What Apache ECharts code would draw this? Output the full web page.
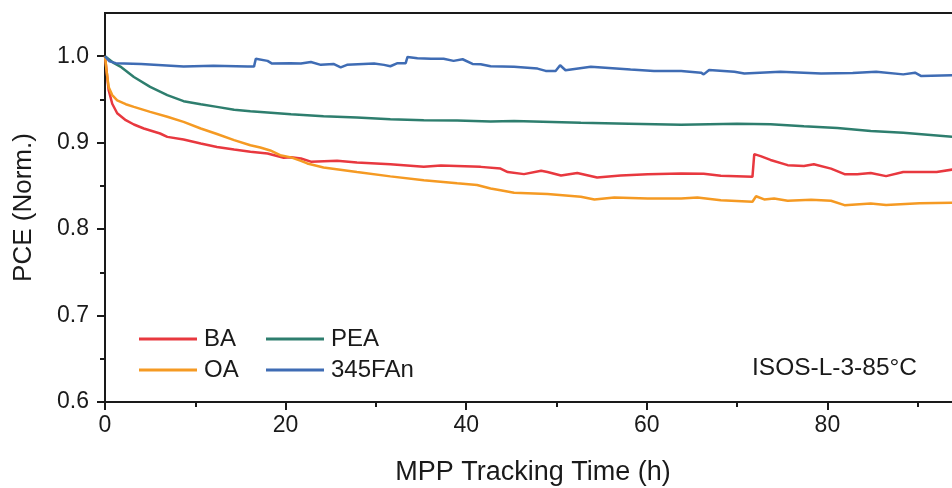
<!DOCTYPE html>
<html>
<head>
<meta charset="utf-8">
<script src="https://cdn.jsdelivr.net/npm/echarts@6/dist/echarts.min.js"></script>
<style>html,body{margin:0;padding:0;background:#fff;overflow:hidden}#c{width:952px;height:488px}</style>
</head>
<body>
<div id="c"></div>
<script>
// ---- data ----
var seriesNames = ['BA', 'OA', 'PEA', '345FAn'];
var xTicks = [0, 20, 40, 60, 80, 100];
var yTicks = [0.6, 0.7, 0.8, 0.9, 1.0];
var xTitle = 'MPP Tracking Time (h)';
var yTitle = 'PCE (Norm.)';
var note = 'ISOS-L-3-85°C';

var baTime = [0, 0.17, 0.4, 0.8, 1.35, 2.3, 3.2, 4.3, 6.1, 6.9, 8.7, 10.6, 12.4, 14.3, 16.1, 18.0, 19.8, 20.6, 21.7, 22.8, 25.7, 27.9, 31.6, 35.3, 37.2, 41.6, 43.8, 44.6, 46.4, 48.3, 49.0, 50.5, 52.3, 54.5, 57.1, 60.1, 63.8, 66.3, 68.2, 71.7, 71.9, 72.6, 73.7, 75.6, 77.4, 78.5, 80.4, 81.9, 83.3, 84.8, 86.5, 88.4, 92.1, 93.9, 95];
var baPCE = [1.0, 0.984, 0.961, 0.945, 0.934, 0.926, 0.921, 0.9164, 0.9106, 0.9067, 0.9037, 0.899, 0.895, 0.892, 0.8894, 0.8875, 0.8825, 0.883, 0.8817, 0.878, 0.879, 0.877, 0.875, 0.872, 0.8735, 0.872, 0.870, 0.866, 0.8636, 0.8674, 0.866, 0.862, 0.865, 0.8597, 0.862, 0.8636, 0.8644, 0.864, 0.8617, 0.8605, 0.8867, 0.8844, 0.880, 0.874, 0.873, 0.875, 0.870, 0.8636, 0.8636, 0.865, 0.8613, 0.866, 0.866, 0.869, 0.869];

var oaTime = [0, 0.15, 0.4, 0.8, 1.35, 2.3, 3.2, 5.0, 6.9, 8.7, 10.6, 12.4, 14.3, 16.1, 17.2, 18.3, 19.4, 20.6, 21.7, 22.4, 24.2, 27.9, 31.6, 35.3, 39.0, 41.2, 42.7, 43.8, 45.3, 49.0, 52.7, 54.2, 56.4, 60.1, 63.8, 65.6, 68.2, 71.7, 72.1, 73.0, 74.1, 75.6, 78.2, 80.4, 81.9, 84.8, 86.5, 90.2, 93.9, 95];
var oaPCE = [1.0, 0.985, 0.9645, 0.955, 0.949, 0.9445, 0.9414, 0.9356, 0.930, 0.924, 0.9164, 0.910, 0.903, 0.897, 0.8944, 0.891, 0.8855, 0.883, 0.879, 0.876, 0.8713, 0.866, 0.861, 0.8566, 0.853, 0.851, 0.847, 0.845, 0.842, 0.8405, 0.8374, 0.8343, 0.8367, 0.8355, 0.8355, 0.8367, 0.8335, 0.8316, 0.838, 0.8343, 0.8355, 0.8328, 0.834, 0.8328, 0.8277, 0.8297, 0.828, 0.830, 0.8304, 0.8305];

var peaTime = [0, 1.0, 1.7, 3.2, 5.0, 6.9, 8.7, 10.6, 12.4, 14.3, 16.1, 18.0, 20.6, 24.2, 27.9, 31.6, 35.3, 39.0, 42.7, 45.3, 52.7, 58.0, 63.8, 70.0, 73.7, 77.4, 81.1, 84.8, 88.4, 93.9, 95];
var peaPCE = [1.0, 0.992, 0.988, 0.976, 0.9645, 0.955, 0.948, 0.9445, 0.9414, 0.938, 0.9364, 0.935, 0.933, 0.9306, 0.929, 0.927, 0.926, 0.9255, 0.9245, 0.925, 0.923, 0.922, 0.9208, 0.922, 0.9214, 0.919, 0.917, 0.9135, 0.9114, 0.9067, 0.906];

var fanTime = [0, 0.5, 1.2, 4, 8.7, 12, 15.8, 16.5, 16.7, 18.0, 18.5, 20.5, 21.7, 22.8, 23.9, 25.3, 26.1, 26.8, 29.8, 30.9, 31.6, 32.4, 33.3, 33.5, 34.6, 36.1, 37.5, 38.6, 39.6, 40.7, 41.6, 42.7, 45.3, 47.9, 48.8, 49.9, 50.4, 51.0, 53.8, 58.2, 60.8, 63.8, 66.0, 66.3, 66.9, 69.7, 70.8, 74.8, 79.3, 82.8, 85.4, 88.4, 89.7, 90.4, 93.9, 95];
var fanPCE = [1.0, 0.994, 0.992, 0.991, 0.988, 0.989, 0.988, 0.988, 0.997, 0.9946, 0.9915, 0.992, 0.9915, 0.9934, 0.990, 0.9911, 0.987, 0.990, 0.9915, 0.990, 0.9884, 0.992, 0.992, 0.9992, 0.9977, 0.997, 0.997, 0.9946, 0.9965, 0.9911, 0.9908, 0.9884, 0.9877, 0.9857, 0.983, 0.983, 0.9896, 0.9838, 0.9877, 0.9846, 0.983, 0.983, 0.981, 0.979, 0.984, 0.982, 0.980, 0.982, 0.980, 0.9807, 0.982, 0.979, 0.981, 0.977, 0.978, 0.978];

var colors = ['#E8383F', '#F59A23', '#2E7E6E', '#3F6CB4'];

function zip(t, v) { return t.map(function (x, i) { return [x, v[i]]; }); }
var seriesData = [zip(baTime, baPCE), zip(oaTime, oaPCE), zip(peaTime, peaPCE), zip(fanTime, fanPCE)];

var FONT = 'Liberation Sans, Arial, sans-serif';
var AX = '#1a1a1a';

function legendAt(name, left, top) {
  return {
    data: [name], left: left, top: top, orient: 'horizontal',
    icon: 'rect', itemWidth: 58, itemHeight: 3, padding: 0,
    textStyle: { fontFamily: FONT, fontSize: 24, color: '#1a1a1a', padding: [0, 0, 0, 2] },
    selectedMode: false
  };
}

var chart = echarts.init(document.getElementById('c'), null, { renderer: 'canvas' });
chart.setOption({
  animation: false,
  backgroundColor: '#fff',
  grid: { left: 105, top: 13, bottom: 86, width: 903, show: true, borderColor: AX, borderWidth: 2,
    containLabel: false, outerBoundsMode: 'none' },
  legend: [
    legendAt('BA', 139, 327),
    legendAt('PEA', 266, 327),
    legendAt('OA', 139, 358),
    legendAt('345FAn', 266, 358)
  ],
  graphic: [{
    type: 'text', left: 752, top: 356,
    style: { text: note, fontFamily: FONT, fontSize: 24.5, fill: '#1a1a1a' }
  }, {
    type: 'text', x: 533, y: 473,
    style: { text: xTitle, fontFamily: FONT, fontSize: 27, fill: '#1a1a1a', align: 'center', verticalAlign: 'middle' }
  }],
  xAxis: {
    type: 'value', min: 0, max: 100, interval: 20,
    axisLine: { show: true, lineStyle: { color: AX, width: 2 } },
    axisTick: { show: true, inside: false, length: 8, lineStyle: { color: AX, width: 2 } },
    minorTick: { show: true, splitNumber: 2, length: 5, lineStyle: { color: AX, width: 2 } },
    axisLabel: { fontFamily: FONT, fontSize: 23, color: '#1a1a1a', margin: 12 },
    splitLine: { show: false }
  },
  yAxis: [{
    type: 'value', min: 0.6, max: 1.05, interval: 0.1,
    name: yTitle, nameLocation: 'middle', nameGap: 68,
    nameTextStyle: { fontFamily: FONT, fontSize: 26, color: '#1a1a1a' },
    axisLine: { show: true, lineStyle: { color: AX, width: 2 } },
    axisTick: { show: true, inside: false, length: 8, lineStyle: { color: AX, width: 2 }, customValues: yTicks },
    axisLabel: { fontFamily: FONT, fontSize: 23, color: '#1a1a1a', margin: 16, customValues: yTicks,
      formatter: function (v) { return v.toFixed(1); } },
    splitLine: { show: false }
  }, {
    type: 'value', min: 0.6, max: 1.05, position: 'left',
    axisLine: { show: false },
    axisTick: { show: true, inside: false, length: 5, lineStyle: { color: AX, width: 2 }, customValues: [0.65, 0.75, 0.85, 0.95] },
    axisLabel: { show: false },
    splitLine: { show: false }
  }],
  series: seriesNames.map(function (n, i) {
    return {
      name: n, type: 'line', data: seriesData[i], showSymbol: false, symbol: 'none',
      lineStyle: { color: colors[i], width: 2.5 }, itemStyle: { color: colors[i] },
      z: 3, xAxisIndex: 0, yAxisIndex: 0
    };
  })
});
</script>
</body>
</html>
